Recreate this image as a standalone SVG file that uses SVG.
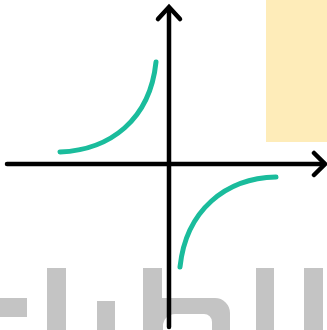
<svg xmlns="http://www.w3.org/2000/svg" width="327" height="330" viewBox="0 0 327 330">
<style>
.bg{fill:#c4c4c4}
.axis{fill:none;stroke:#000;stroke-width:4.5;stroke-linecap:round;stroke-linejoin:miter}
.curve{fill:none;stroke:#1abc9c;stroke-width:5;stroke-linecap:round}
</style>
<rect x="0" y="0" width="327" height="330" fill="#fff"/>
<g id="note">
<rect x="266" y="0" width="61" height="142" fill="#feecb9"/>
</g>
<g id="backdrop">
<rect class="bg" x="0" y="298" width="27" height="19"/>
<rect class="bg" x="47" y="268" width="19" height="62"/>
<rect class="bg" x="97" y="301" width="18" height="29"/>
<rect class="bg" x="143" y="268" width="19" height="62"/>
<path class="bg" d="M162,298 H215 A15,15 0 0 1 230,313 V330 H212 V322 A8,8 0 0 0 204,314 H175 A12,12 0 0 0 163,326 V330 H162 Z"/>
<rect class="bg" x="256" y="268" width="18" height="62"/>
<rect class="bg" x="304" y="268" width="19" height="62"/>
</g>
<g id="connectors">
<path class="axis" d="M7,164 H324"/>
<path class="axis" d="M169,327 V8"/>
<path class="axis" d="M314,153 L325,164 L314,175"/>
<path class="axis" d="M158,19 L169,7 L180,19"/>
</g>
<g id="branch-upper">
<path class="curve" d="M60,152 C110,150 150,120 156,62"/>
</g>
<g id="branch-lower">
<path class="curve" d="M180,267 C186,210 226,178 276,177"/>
</g>
</svg>
